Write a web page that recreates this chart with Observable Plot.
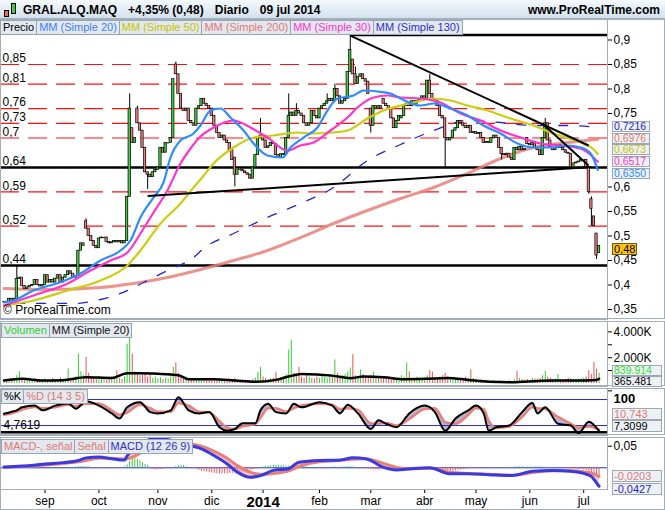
<!DOCTYPE html>
<html>
<head>
<meta charset="utf-8">
<script src="https://cdn.jsdelivr.net/npm/d3@7"></script>
<script src="https://cdn.jsdelivr.net/npm/@observablehq/plot@0.6"></script>
<style>
html,body{margin:0;padding:0;background:#fff;}
#root{position:relative;width:665px;height:510px;overflow:hidden;background:#fff;font-family:"Liberation Sans",Arial,sans-serif;color:#000;}
#root > *{position:absolute;}
.box{border:1px solid #a3aeb8;box-sizing:border-box;pointer-events:none;}
.lrow{display:flex;height:15px;}
.lrow span{height:15px;box-sizing:border-box;border:1px solid #97a5b2;background:#e2e8ee;font-size:11px;line-height:13px;padding:0 2px;margin-right:-1px;white-space:nowrap;}
.tag{box-sizing:border-box;border:1px solid #9ba7b2;background:#eef1f4;font-size:11px;padding:0 1px;white-space:nowrap;overflow:hidden;}
.hdr{display:flex;gap:11px;font-weight:bold;font-size:12px;top:3px;white-space:nowrap;}
</style>
</head>
<body>
<div id="root"></div>
<script>
// ================= DATA =================
// daily candles (trading-day index 0 = 9 Aug 2013 ... 232 = 9 Jul 2014)
const close = [
0.366,0.365,0.372,0.368,0.372,0.412,0.415,0.398,0.392,0.395,
0.398,0.400,0.410,0.400,0.397,0.400,0.420,0.405,0.410,0.405,
0.413,0.420,0.405,0.415,0.420,0.428,0.423,0.415,0.418,0.470,
0.485,0.480,0.515,0.500,0.490,0.480,0.475,0.495,0.497,0.497,
0.488,0.485,0.487,0.490,0.487,0.490,0.485,0.490,0.580,0.760,
0.690,0.700,0.730,0.715,0.680,0.630,0.625,0.620,0.630,0.635,
0.640,0.680,0.670,0.690,0.690,0.700,0.820,0.830,0.790,0.760,
0.755,0.760,0.735,0.730,0.725,0.760,0.765,0.780,0.770,0.765,
0.760,0.745,0.725,0.710,0.700,0.705,0.695,0.690,0.675,0.655,
0.625,0.638,0.635,0.632,0.628,0.625,0.617,0.640,0.665,0.700,
0.705,0.695,0.680,0.683,0.690,0.688,0.665,0.660,0.667,0.665,
0.700,0.745,0.752,0.745,0.755,0.750,0.745,0.730,0.725,0.730,
0.755,0.745,0.740,0.760,0.765,0.770,0.775,0.780,0.775,0.800,
0.785,0.770,0.775,0.780,0.835,0.880,0.830,0.810,0.825,0.830,
0.820,0.815,0.790,0.725,0.765,0.760,0.765,0.760,0.770,0.765,
0.760,0.740,0.720,0.735,0.745,0.745,0.765,0.770,0.765,0.775,
0.770,0.775,0.780,0.785,0.780,0.817,0.790,0.780,0.775,0.765,
0.745,0.740,0.700,0.695,0.700,0.715,0.720,0.735,0.730,0.725,
0.720,0.725,0.710,0.712,0.708,0.710,0.700,0.690,0.692,0.690,
0.700,0.705,0.700,0.680,0.667,0.665,0.668,0.660,0.655,0.680,
0.675,0.682,0.675,0.678,0.688,0.685,0.690,0.680,0.675,0.665,
0.700,0.730,0.695,0.680,0.675,0.680,0.685,0.680,0.675,0.670,
0.668,0.640,0.648,0.650,0.652,0.655,0.655,0.640,0.590,0.555,
0.520,0.460,0.480];
const open = [
0.366,0.366,0.365,0.372,0.368,0.372,0.412,0.415,0.398,0.392,
0.395,0.398,0.400,0.410,0.400,0.397,0.400,0.420,0.405,0.410,
0.405,0.413,0.420,0.405,0.415,0.420,0.428,0.423,0.415,0.418,
0.470,0.485,0.530,0.515,0.500,0.490,0.480,0.475,0.495,0.497,
0.497,0.488,0.485,0.487,0.490,0.487,0.490,0.485,0.490,0.580,
0.720,0.690,0.760,0.730,0.715,0.680,0.630,0.625,0.620,0.630,
0.635,0.640,0.680,0.670,0.690,0.690,0.700,0.850,0.830,0.790,
0.760,0.755,0.760,0.735,0.730,0.725,0.760,0.765,0.780,0.770,
0.765,0.760,0.745,0.725,0.710,0.700,0.705,0.695,0.690,0.675,
0.660,0.625,0.638,0.635,0.632,0.628,0.625,0.617,0.640,0.665,
0.700,0.705,0.695,0.680,0.683,0.690,0.688,0.665,0.660,0.667,
0.665,0.700,0.745,0.752,0.745,0.755,0.750,0.745,0.730,0.725,
0.730,0.755,0.745,0.740,0.760,0.765,0.770,0.775,0.780,0.775,
0.800,0.785,0.770,0.775,0.780,0.835,0.860,0.830,0.810,0.825,
0.830,0.820,0.815,0.760,0.725,0.765,0.760,0.765,0.780,0.770,
0.765,0.760,0.740,0.720,0.735,0.740,0.745,0.765,0.770,0.765,
0.775,0.770,0.775,0.780,0.785,0.780,0.817,0.790,0.780,0.775,
0.765,0.745,0.740,0.700,0.695,0.700,0.715,0.720,0.735,0.730,
0.725,0.720,0.725,0.710,0.712,0.708,0.710,0.700,0.690,0.692,
0.690,0.700,0.705,0.700,0.680,0.667,0.665,0.668,0.660,0.655,
0.680,0.675,0.682,0.675,0.700,0.688,0.685,0.690,0.680,0.675,
0.665,0.700,0.730,0.695,0.680,0.675,0.680,0.685,0.680,0.675,
0.670,0.668,0.640,0.648,0.650,0.652,0.655,0.655,0.640,0.575,
0.540,0.505,0.465];
// notable shadows
const wickIdx = [5,32,49,52,56,67,90,100,111,114,126,129,135,137,143,166,172,194,211,221,228,229,231];
const wickHi  = [0.44,0.535,0.79,0.765,null,0.855,null,0.74,0.79,0.77,0.79,0.81,0.91,0.845,null,0.83,null,null,0.74,null,null,0.58,null];
const wickLo  = [null,null,null,null,0.595,null,0.60,null,null,null,null,null,null,null,0.71,null,0.64,0.655,null,0.635,0.585,0.52,0.452];
// volume (thousands)
const volume = [
150,250,200,300,250, 600,920,300,200,250, 180,300,400,250,200, 300,350,200,250,400,
300,250,450,200,300, 1130,400,350,500, 2280,900,600,2025,800, 500,400,300,350,450,
300,250,400,500,350, 1000,400,300,500, 3050,4150,2280,900,700, 600,650,800,500,700,
400,500,350,450,300, 400,350,500,1250,1590, 800,600,400,500,300, 350,400,250,300,400,
300,250,350,200,300, 250,200,300,250,200, 300,250,400,200,150, 200,150,250,200,300,
400,870,1250,500,400, 300,350,400,870,300, 400,500,700,2590,3360, 800,600,1250,500,400,
600,500,400,350,500, 400,600,500,400,700, 600,1820,800,500,600, 700,900,1200,2230,600,
500,1050,700,500,400, 600,870,500,400,350, 500,400,300,350,400, 300,400,600,500,1590,
900,400,350,500,400, 300,400,600,1000,900, 400,350,500,600,800, 500,400,350,300,400,
350,300,500,400,1050, 400,300,250,300,200, 250,200,150,200,150, 200,150,100,150,200,
150,300,950,400,300, 250,300,250,400,350, 300,400,600,950,500, 400,300,350,700,300,
250,300,400,350,300, 250,300,350,400,500, 1000,700,1640,1100,800];
const volMaIdx = [0,7,15,23,32,42,48,52,65,68,72,82,90,98,106,111,116,128,135,140,148,156,164,173,181,189,197,206,214,222,231,232];
const volMaVal = [230,360,230,260,490,430,800,800,690,640,330,330,230,130,280,540,740,610,410,540,490,330,360,435,280,130,100,180,230,230,280,365];

// moving averages
const ma20Idx = [0,3.7,11.5,22,29.8,37.6,45.4,49.3,53.2,58.3,62.2,64.9,68.8,73.9,76.6,80.5,84.4,88.3,93.4,97.3,102.7,108.6,111.7,116.8,122.2,126.1,130,136.3,140.2,145.6,150.7,154.6,162.4,167.5,174.1,180.7,186.9,193.6,200.2,206.4,213.1,219.7,224.8,228.7,231.5];
const ma20Val = [0.3643,0.3684,0.3888,0.4057,0.4235,0.4500,0.4704,0.4908,0.5378,0.5786,0.6092,0.6602,0.6949,0.7092,0.7255,0.7561,0.7602,0.7418,0.7153,0.6888,0.6643,0.6602,0.6806,0.7010,0.7214,0.7561,0.7806,0.7867,0.7969,0.7949,0.7908,0.7806,0.7663,0.7704,0.7602,0.7459,0.7255,0.7092,0.6888,0.6806,0.6806,0.6847,0.6806,0.6684,0.6350];
const ma50Idx = [0,11.5,24.8,37.6,48.1,53.2,61,68.8,73.9,76.6,81.7,89.5,97.3,105.1,114.4,119.5,128.5,133.9,141.7,148,154.6,159.6,167.5,174.1,180.7,188.5,196.3,206.4,214.2,224.8,229.5,231.5];
const ma50Val = [0.3582,0.3684,0.3888,0.4092,0.4398,0.4704,0.5255,0.5663,0.5990,0.6153,0.6480,0.6806,0.7010,0.7051,0.7112,0.7092,0.7112,0.7153,0.7398,0.7561,0.7663,0.7724,0.7806,0.7765,0.7663,0.7561,0.7418,0.7255,0.7092,0.6908,0.6786,0.6673];
const ma30Idx = [0,11.5,24.8,33.7,41.5,48.1,53.2,58.3,63.7,68.8,72.7,76.6,81.7,89.5,96.1,102.7,110.5,115.6,120.7,127.3,133.9,137.8,144.1,149.5,154.6,162.4,170.2,178,185.8,193.6,201.4,209.2,217,224.8,231.5];
const ma30Val = [0.3582,0.3786,0.4031,0.4296,0.4500,0.4663,0.5051,0.5480,0.5929,0.6480,0.6786,0.7031,0.7214,0.7357,0.7214,0.7010,0.6745,0.6847,0.6908,0.7153,0.7418,0.7622,0.7827,0.7867,0.7827,0.7806,0.7724,0.7500,0.7357,0.7153,0.7010,0.6888,0.6847,0.6786,0.6517];
const ma200Idx = [0,18.1,37.6,50.5,63.7,76.6,89.5,102.7,115.6,128.5,141.7,154.6,167.5,180.7,193.6,206.4,219.7,231.5];
const ma200Val = [0.3929,0.3908,0.3949,0.4031,0.4153,0.4316,0.4500,0.4704,0.4969,0.5255,0.5520,0.5765,0.5990,0.6276,0.6582,0.6806,0.6908,0.6976];
const ma130Idx = [4.5,27.1,37.6,45.4,54.4,63.7,73.9,77.8,89.5,102.7,115.6,128.5,141.7,154.6,167.5,180.7,193.6,206.4,219.7,231.5];
const ma130Val = [0.3623,0.3623,0.3704,0.3827,0.4051,0.4296,0.4561,0.4745,0.5051,0.5378,0.5663,0.5990,0.6541,0.6867,0.7153,0.7357,0.7316,0.7255,0.7255,0.7216];

// horizontal levels and trend lines drawn on the chart
const redLevels = [0.85,0.81,0.76,0.73,0.70,0.59,0.52];
const blackLevels = [0.64,0.44];
const levelLabels = [0.85,0.81,0.76,0.73,0.70,0.64,0.59,0.52,0.44];
const topLevel = 0.91, topLevelFrom = 135;
const trendX1 = [135,210.3,56];
const trendY1 = [0.909,0.7276,0.5814];
const trendX2 = [227.9,227.9,228.7];
const trendY2 = [0.6847,0.6439,0.6407];
// right-axis labels (0,65 and 0,7 are hidden under the value tags)
const priceTicks = [0.35,0.40,0.45,0.50,0.55,0.60,0.75,0.80,0.85,0.90];

// stochastic %K / %D (14 3 5)
const stochIdx = [0,3,5,7,12,15,20,25,28,32,37,42,45,48,53,57,60,65,68,72,76,80,84,87,90,93,98,100,103,106,110,113,116,123,128,131,134,138,143,146,149,153,158,164,168,172,176,181,184,187,189,192,197,202,206,208,211,216,221,224,228,232];
const kVal = [47,52,55,62,66,55,66,71,59,76,66,48,36,62,74,51,48,55,85,55,48,51,16,8,12,25,25,55,70,51,48,70,62,74,66,48,68,48,12,32,24,16,48,66,51,8,36,55,66,48,8,16,20,51,72,48,62,24,20,2,29,7.31];
const dVal = [45,48,52,57,63,60,62,68,65,70,70,55,45,50,68,60,52,52,72,66,52,50,30,15,12,18,24,38,60,60,52,60,66,70,68,58,60,56,25,24,26,20,35,58,60,28,24,45,60,58,30,15,18,40,62,60,58,40,24,15,18,10.74];
const stochBands = [80,20];
const stochFloor = 4.7619;

// MACD (12 26 9)
const macdIdx = [0,7,15,23,29,32,37,42,47,48,52,55,60,65,68,72,77,82,87,91,96,100,105,111,115,123,131,136,141,148,153,159,166,174,181,189,198,206,214,221,226,229,231,232];
const macdVal = [0.002,0.004,0.008,0.012,0.017,0.023,0.025,0.021,0.018,0.028,0.048,0.062,0.068,0.064,0.058,0.052,0.044,0.028,0.009,-0.010,-0.022,-0.018,-0.006,-0.002,0.013,0.017,0.018,0.023,0.021,0.001,-0.005,-0.002,0.000,-0.014,-0.014,-0.016,-0.018,-0.008,-0.006,-0.008,-0.013,-0.020,-0.035,-0.0427];
const signalVal = [0.001,0.003,0.006,0.010,0.014,0.017,0.022,0.022,0.020,0.021,0.030,0.042,0.055,0.060,0.060,0.057,0.050,0.038,0.022,0.005,-0.010,-0.015,-0.013,-0.007,0.003,0.014,0.017,0.020,0.021,0.010,0.001,-0.002,-0.001,-0.010,-0.013,-0.015,-0.017,-0.011,-0.007,-0.007,-0.009,-0.012,-0.017,-0.0203];
// MACD - signal histogram, thousandths, one per day
const hist = [
1,1,1,0,1,1,1,1,1,1, 1,1,1,1,1,1,1,1,0,1, 1,1,1,1,1,1,1,1,
2,3,3,3,3,2,
0,-1,-1,-1,-1,-1,-1,-1,0,-1,-1,-1,0,
2,7,15,20,22,20,16,12,8,5,
-3,-4,-5,-5,-4,-3,-2,-1,0,1,
3,5,6,5,3,1,
-1,-2,-4,-6,-8,-9,-10,-11,-12,-13,-14,-14,-14,-14,-14,-13,-13,-12,-12,-11,-10,-9,-8,-6,-5,-3,-2,
1,2,3,4,5,6,6,6,5,5,4,4,3,3,3,2,2,2,2,1,1,1,
1,1,0,0,1,1,2,2,1,1,2,2,3,3,2,1,0,-1,-1,
-2,-3,-4,-5,-5,-5,-5,-4,-4,-3,-3,-2,-2,-1,-1,0,0,1,1,1,
1,1,1,1,0,0,-1,-1,-2,-3,
-4,-6,-8,-8,-8,-7,-6,-5,-4,-3,-2,-2,-1,-1,-1,
0,0,-1,-1,-1,-1,-1,-1,0,0,0,1,1,2,2,2,2,2,2,2,
2,2,2,2,1,1,1,1,0,0,0,0,-1,-1,-1,
-2,-2,-3,-3,-4,-5,-6,-8,-11,-15,-20,-22];

const monthIdx = [16,37,60,81,101,123,143,164,184,205,226];
const monthLbl = ["sep","oct","nov","dic","2014","feb","mar","abr","may","jun","jul"];

// ================= CHART =================
const root = document.getElementById("root");
function add(html, css, cls) {
  const d = document.createElement("div");
  d.innerHTML = html;
  if (cls) d.className = cls;
  Object.assign(d.style, css);
  root.appendChild(d);
  return d;
}
const xDomain = [-1.365, 235.28];
const W = 665, MR = 58;
const FONT = '"Liberation Sans", Arial, sans-serif';
const green = "#3ccf3c", red = "#ef7b7b";
const base = {width: W, marginLeft: 0, marginRight: MR, marginTop: 0, marginBottom: 0,
  style: {fontFamily: FONT, fontSize: "12px", color: "#000", background: "transparent", overflow: "visible"}};
const comma = v => String(+(+v).toFixed(4)).replace(".", ",");
const pts = (idx, val) => idx.map((i, k) => ({i, v: val[k]}));
const frameC = "#a3aeb8";

const candles = close.map((c, i) => {
  const o = open[i];
  const w = wickIdx.indexOf(i);
  let hi = Math.max(o, c), lo = Math.min(o, c);
  if (w >= 0 && wickHi[w] != null) hi = Math.max(hi, wickHi[w]);
  if (w >= 0 && wickLo[w] != null) lo = Math.min(lo, wickLo[w]);
  return {i, o, c, hi, lo, up: c >= o};
});
const trend = trendX1.map((x, k) => ({x1: x, y1: trendY1[k], x2: trendX2[k], y2: trendY2[k]}));

const mainPlot = Plot.plot({...base, height: 300,
  x: {domain: xDomain, axis: null},
  y: {domain: [0.32959, 0.94184], axis: "right", ticks: priceTicks, tickFormat: comma, tickSize: 4, tickPadding: 2, label: null},
  marks: [
    Plot.ruleY(redLevels, {stroke: "#ff1010", strokeWidth: 1.2, strokeDasharray: "19,9"}),
    Plot.ruleY(blackLevels, {stroke: "#000", strokeWidth: 2.5}),
    Plot.ruleY([topLevel], {x1: () => topLevelFrom, x2: () => xDomain[1], stroke: "#000", strokeWidth: 2.5}),
    Plot.text(levelLabels, {x: () => xDomain[0], y: d => d, text: d => comma(d), textAnchor: "start", dx: 2, dy: -6, fontSize: 12}),
    Plot.line(pts(ma200Idx, ma200Val), {x: "i", y: "v", stroke: "#e8807a", strokeOpacity: 0.85, strokeWidth: 3, curve: "monotone-x", clip: true}),
    Plot.line(pts(ma130Idx, ma130Val), {x: "i", y: "v", stroke: "#2424c8", strokeWidth: 1.3, strokeDasharray: "9,12", curve: "monotone-x", clip: true}),
    Plot.ruleX(candles, {x: "i", y1: "lo", y2: "hi", stroke: "#000", strokeWidth: 1}),
    Plot.rect(candles.filter(d => d.o !== d.c), {x1: d => d.i - 0.45, x2: d => d.i + 0.45, y1: "o", y2: "c", fill: d => d.up ? green : red, stroke: "#000", strokeWidth: 0.7}),
    Plot.ruleY(candles.filter(d => d.o === d.c), {x1: d => d.i - 0.5, x2: d => d.i + 0.5, y: "c", stroke: "#000", strokeWidth: 1}),
    Plot.line(pts(ma50Idx, ma50Val), {x: "i", y: "v", stroke: "#cccc10", strokeWidth: 2.2, curve: "monotone-x", clip: true}),
    Plot.line(pts(ma30Idx, ma30Val), {x: "i", y: "v", stroke: "#ff33cc", strokeWidth: 2.2, curve: "monotone-x", clip: true}),
    Plot.line(pts(ma20Idx, ma20Val), {x: "i", y: "v", stroke: "#2b8cff", strokeWidth: 2.2, curve: "monotone-x", clip: true}),
    Plot.link(trend, {x1: "x1", y1: "y1", x2: "x2", y2: "y2", stroke: "#000", strokeWidth: 2}),
    Plot.frame({stroke: frameC})
  ]});

const volPlot = Plot.plot({...base, height: 65,
  x: {domain: xDomain, axis: null},
  y: {domain: [-232.6, 4806], axis: "right", ticks: [1000, 2000, 3000, 4000], tickFormat: d => d % 2000 === 0 ? (d / 1000) + ".000K" : "", tickSize: 4, tickPadding: 2, label: null},
  marks: [
    Plot.ruleX(candles, {x: "i", y1: () => 0, y2: d => volume[d.i], stroke: d => d.up ? "#33cc33" : "#e05555", strokeWidth: 1}),
    Plot.line(pts(volMaIdx, volMaVal), {x: "i", y: "v", stroke: "#000", strokeWidth: 2.5, curve: "monotone-x"}),
    Plot.frame({stroke: frameC})
  ]});

const stoch = stochIdx.map((i, k) => ({i, k: kVal[k], d: dVal[k]}));
const stochPlot = Plot.plot({...base, height: 47,
  x: {domain: xDomain, axis: null},
  y: {domain: [-3.0, 105.47], axis: "right", ticks: [100], tickFormat: d => String(d), tickSize: 4, tickPadding: 2, label: null},
  marks: [
    Plot.areaY(stoch, {x: "i", y1: "k", y2: "d", fill: "#9c9cc8", fillOpacity: 0.75, curve: "monotone-x"}),
    Plot.ruleY(stochBands, {stroke: "#2a2ac0", strokeWidth: 1}),
    Plot.ruleY([stochFloor], {stroke: "#000", strokeWidth: 2.5}),
    Plot.line(stoch, {x: "i", y: "d", stroke: "#e8807a", strokeWidth: 2.5, curve: "monotone-x"}),
    Plot.line(stoch, {x: "i", y: "k", stroke: "#000", strokeWidth: 2, curve: "monotone-x"}),
    Plot.text([stochFloor], {x: () => xDomain[0], y: d => d, text: d => comma(d), textAnchor: "start", dx: 3, dy: -7, fontSize: 12}),
    Plot.frame({stroke: frameC})
  ]});

const macd = macdIdx.map((i, k) => ({i, m: macdVal[k], s: signalVal[k]}));
const histData = hist.map((h, i) => ({i, h: h / 1000}));
const macdPlot = Plot.plot({...base, height: 73, marginBottom: 21,
  x: {domain: xDomain, ticks: monthIdx, tickFormat: d => monthLbl[monthIdx.indexOf(d)], tickSize: 4, tickPadding: 3, label: null},
  y: {domain: [-0.05023, 0.07014], axis: "right", ticks: [0.05], tickFormat: comma, tickSize: 4, tickPadding: 2, label: null},
  marks: [
    Plot.ruleY([0], {stroke: "#2a2ac0", strokeWidth: 1}),
    Plot.ruleX(histData, {x: "i", y1: () => 0, y2: "h", stroke: d => d.h >= 0 ? "#44cc44" : "#e06060", strokeWidth: 1}),
    Plot.areaY(macd, {x: "i", y1: "m", y2: "s", fill: "#f09a9a", fillOpacity: 0.6, curve: "monotone-x", clip: true}),
    Plot.line(macd, {x: "i", y: "s", stroke: "#e8807a", strokeWidth: 3, curve: "monotone-x", clip: true}),
    Plot.line(macd, {x: "i", y: "m", stroke: "#3a3ae0", strokeWidth: 3, curve: "monotone-x", clip: true}),
    Plot.frame({stroke: frameC})
  ]});

macdPlot.querySelectorAll("text").forEach(t => { if (t.textContent === "2014") { t.setAttribute("font-weight", "bold"); t.setAttribute("font-size", "15"); } });
stochPlot.querySelectorAll("text").forEach(t => { if (t.textContent === "100") { t.setAttribute("font-weight", "bold"); t.setAttribute("font-size", "13"); t.setAttribute("dy", "0.65em"); } });

// header
add("", {left: "0px", top: "0px", width: "665px", height: "19px", background: "linear-gradient(#f4f9fd,#d3e1ed)", borderBottom: "1px solid #9fb0c0", boxSizing: "border-box"});
add("", {left: "4px", top: "10px", width: "5px", height: "7px", background: "#e86a6a", border: "1px solid #000", boxSizing: "border-box"});
add("", {left: "11px", top: "3px", width: "5px", height: "11px", background: "#3ccf3c", border: "1px solid #000", boxSizing: "border-box"});
add("<span>GRAL.ALQ.MAQ</span><span>+4,35% (0,48)</span><span>Diario</span><span>09 jul 2014</span>", {left: "23px"}, "hdr");
add("<span>www.ProRealTime.com</span>", {right: "5px"}, "hdr");

// panels
function place(svg, top) { svg.style.position = "absolute"; svg.style.left = "0px"; svg.style.top = top + "px"; root.appendChild(svg); }
place(mainPlot, 19);
place(volPlot, 321);
place(stochPlot, 388);
place(macdPlot, 437);
add("", {left: "0px", top: "19px", width: "665px", height: "300px"}, "box");
add("", {left: "0px", top: "321px", width: "665px", height: "65px"}, "box");
add("", {left: "0px", top: "388px", width: "665px", height: "47px"}, "box");
add("", {left: "0px", top: "437px", width: "665px", height: "73px"}, "box");

// legends
function legend(items, left, top) {
  add(items.map(([t, c]) => `<span style="color:${c}">${t}</span>`).join(""), {left: left + "px", top: top + "px"}, "lrow");
}
legend([["Precio", "#000"], ["MM (Simple 20)", "#3a80ff"], ["MM (Simple 50)", "#c4c400"], ["MM (Simple 200)", "#e07878"], ["MM (Simple 30)", "#ff33cc"], ["MM (Simple 130)", "#3030c8"]], 0, 20);
legend([["Volumen", "#33cc33"], ["MM (Simple 20)", "#111"]], 1, 323);
legend([["%K", "#000"], ["%D (14 3 5)", "#e07878"]], 1, 389);
legend([["MACD-, señal", "#e07878"], ["Señal", "#e07878"], ["MACD (12 26 9)", "#3030c8"]], 1, 439);
add("© ProRealTime.com", {left: "3px", top: "303px", fontSize: "12px", whiteSpace: "nowrap"});

// value tags
function tag(txt, color, center, bg, w, h) {
  h = h || 12;
  return add(txt, {left: "612px", top: (center - h / 2) + "px", height: h + "px", lineHeight: (h - 2) + "px",
    fontSize: (h < 12 ? 10.5 : 11) + "px", color: color, background: bg || "#eef1f4", width: (w || 38) + "px"}, "tag");
}
const ym = v => 19 + mainPlot.scale("y").apply(v);
// stack the moving-average tags between the 0,75 and 0,6 axis labels
const maTags = [[0.7216, "0,7216", "#2424c8"], [0.6976, "0,6976", "#e07878"], [0.6673, "0,6673", "#c4c400"], [0.6517, "0,6517", "#ff33cc"], [0.6350, "0,6350", "#2b8cff"]];
const gap = 11.8, topC = 126.2, botC = 173.4;
let cs = maTags.map(d => ym(d[0]));
for (let k = 0; k < cs.length; k++) cs[k] = Math.max(cs[k], k ? cs[k - 1] + gap : topC);
cs[cs.length - 1] = Math.min(cs[cs.length - 1], botC);
for (let k = cs.length - 2; k >= 0; k--) cs[k] = Math.min(cs[k], cs[k + 1] - gap);
maTags.forEach((d, k) => tag(d[1], d[2], cs[k], null, 38, 11));
const pTag = tag("0,48", "#000", 248.5, "#ffc20e", 25);
pTag.style.borderColor = "#6b5a10";

tag("839.914", "#33dd33", 370.0, null, 50, 11);
tag("365.481", "#000", 381.0, null, 50, 11);

const ys = v => 388 + stochPlot.scale("y").apply(v);
const cK = Math.min(ys(7.3099), 426);
tag("10,743", "#e07878", cK - 12.5, null, 50);
tag("7,3099", "#000", cK, null, 50);

const yq = v => 437 + macdPlot.scale("y").apply(v);
const c2 = yq(-0.0203), c4 = Math.max(yq(-0.0427), c2 + 12.5);
tag("-0,0203", "#e07878", c2, null, 50);
tag("-0,0427", "#2424c8", c4, null, 50);
</script>
</body>
</html>
